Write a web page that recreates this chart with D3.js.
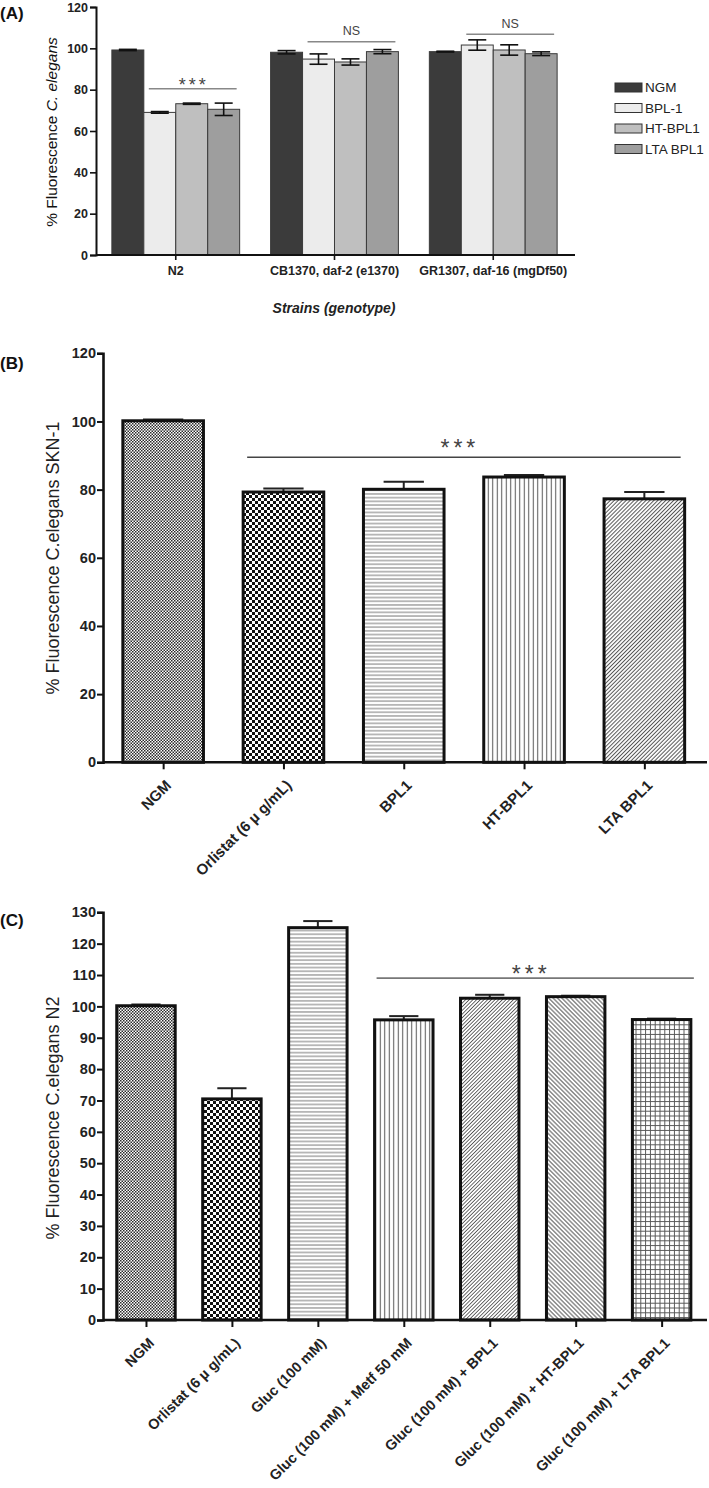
<!DOCTYPE html>
<html><head><meta charset="utf-8">
<script src="https://cdn.jsdelivr.net/npm/d3@7"></script>
<style>
body{margin:0;background:#fff}
svg{display:block}
text{font-family:"Liberation Sans",Arial,sans-serif}
</style>
</head><body>
<svg id="c" width="709" height="1488"></svg>
<script>
// ---------- DATA ----------
// Panel A
const strainsA = ["N2", "CB1370, daf-2 (e1370)", "GR1307, daf-16 (mgDf50)"];
const seriesA = ["NGM", "BPL-1", "HT-BPL1", "LTA BPL1"];
const valuesA = [[99.2, 69.0, 73.2, 70.5], [98.1, 94.8, 93.4, 98.4], [98.4, 101.6, 99.2, 97.4]];
const errorsA = [[0.3, 0.4, 0.3, 3.0], [0.8, 2.5, 1.5, 1.0], [0.2, 2.5, 2.5, 0.9]];
const sigLabelsA = ["***", "NS", "NS"];
const sigLevelsA = [80.5, 103.2, 106.8];
const yTicksA = [0, 20, 40, 60, 80, 100, 120];

// Panel B
const categoriesB = ["NGM", "Orlistat (6 \u00b5 g/mL)", "BPL1", "HT-BPL1", "LTA BPL1"];
const valuesB = [100.2, 79.3, 80.1, 83.7, 77.3];
const errorsB = [0.4, 1.0, 2.2, 0.6, 2.0];
const yTicksB = [0, 20, 40, 60, 80, 100, 120];
const sigB = {from: 1, to: 4, level: 89.5, label: "***"};

// Panel C
const categoriesC = ["NGM", "Orlistat (6 \u00b5 g/mL)", "Gluc (100 mM)", "Gluc (100 mM) + Metf 50 mM",
  "Gluc (100 mM) + BPL1", "Gluc (100 mM) + HT-BPL1", "Gluc (100 mM) + LTA BPL1"];
const valuesC = [100.2, 70.5, 125.1, 95.7, 102.6, 103.1, 95.8];
const errorsC = [0.4, 3.4, 2.1, 1.2, 1.1, 0.3, 0.3];
const yTicksC = [0, 10, 20, 30, 40, 50, 60, 70, 80, 90, 100, 110, 120, 130];
const sigC = {from: 3, to: 6, level: 109, label: "***"};

// ---------- STYLES ----------
const colorsA = ["#3b3b3b", "#ececec", "#bfbfbf", "#9e9e9e"];
const fillsB = ["fine", "check", "hl", "vl", "d1"];
const fillsC = ["fine", "check", "hl", "vl", "d1c", "d2c", "grid"];

const svg = d3.select("#c");
svg.append("rect").attr("width", 709).attr("height", 1488).attr("fill", "#fff");
const defs = svg.append("defs");

function pattern(id, w, h, transform) {
  const p = defs.append("pattern").attr("id", id).attr("patternUnits", "userSpaceOnUse")
    .attr("width", w).attr("height", h);
  if (transform) p.attr("patternTransform", transform);
  p.append("rect").attr("width", w).attr("height", h).attr("fill", "#fff");
  return p;
}
{
  const f = pattern("fine", 3, 3);
  f.append("rect").attr("x", 0).attr("y", 0).attr("width", 1.5).attr("height", 1.5).attr("fill", "#2a2a2a");
  f.append("rect").attr("x", 1.5).attr("y", 1.5).attr("width", 1.5).attr("height", 1.5).attr("fill", "#2a2a2a");
  const c = pattern("check", 6, 6);
  c.append("rect").attr("x", 0).attr("y", 0).attr("width", 3).attr("height", 3).attr("fill", "#111");
  c.append("rect").attr("x", 3).attr("y", 3).attr("width", 3).attr("height", 3).attr("fill", "#111");
  const hl = pattern("hl", 8, 3.7);
  hl.append("line").attr("x1", 0).attr("x2", 8).attr("y1", 1.85).attr("y2", 1.85).attr("stroke", "#777").attr("stroke-width", 1);
  const vl = pattern("vl", 4.5, 8);
  vl.append("line").attr("y1", 0).attr("y2", 8).attr("x1", 2.25).attr("x2", 2.25).attr("stroke", "#555").attr("stroke-width", 1);
  const d1 = pattern("d1", 2.8, 8, "rotate(45)");
  d1.append("line").attr("y1", 0).attr("y2", 8).attr("x1", 1.4).attr("x2", 1.4).attr("stroke", "#555").attr("stroke-width", 1);
  const d1c = pattern("d1c", 2.6, 8, "rotate(45)");
  d1c.append("line").attr("y1", 0).attr("y2", 8).attr("x1", 1.3).attr("x2", 1.3).attr("stroke", "#555").attr("stroke-width", 0.9);
  const d2c = pattern("d2c", 3.1, 8, "rotate(-45)");
  d2c.append("line").attr("y1", 0).attr("y2", 8).attr("x1", 1.55).attr("x2", 1.55).attr("stroke", "#555").attr("stroke-width", 1);
  const gr = pattern("grid", 4.8, 4.8);
  gr.append("line").attr("y1", 0).attr("y2", 4.8).attr("x1", 2.4).attr("x2", 2.4).attr("stroke", "#555").attr("stroke-width", 1);
  gr.append("line").attr("x1", 0).attr("x2", 4.8).attr("y1", 2.4).attr("y2", 2.4).attr("stroke", "#555").attr("stroke-width", 1);
}

// ---------- PANEL A ----------
(function () {
  const g = svg.append("g");
  const xLeft = 96, xRight = 575;
  const y = d3.scaleLinear().domain([0, 120]).range([255, 7]);
  const x0 = d3.scaleBand().domain(strainsA).range([96, 573]).paddingInner(0.195).paddingOuter(0.1);
  const x1 = d3.scaleBand().domain(seriesA).range([0, x0.bandwidth()]).padding(0);

  strainsA.forEach((s, i) => {
    const gg = g.append("g").attr("transform", `translate(${x0(s)},0)`);
    gg.selectAll("rect").data(seriesA).join("rect")
      .attr("x", d => x1(d)).attr("width", x1.bandwidth())
      .attr("y", (d, j) => y(valuesA[i][j]))
      .attr("height", (d, j) => y(0) - y(valuesA[i][j]))
      .attr("fill", (d, j) => colorsA[j]).attr("stroke", "#3a3a3a").attr("stroke-width", 1);
    const cw = 18;
    seriesA.forEach((d, j) => {
      const cx = x1(d) + x1.bandwidth() / 2, v = valuesA[i][j], e = errorsA[i][j];
      const eg = gg.append("g").attr("stroke", "#111").attr("stroke-width", 1.6);
      eg.append("line").attr("x1", cx).attr("x2", cx).attr("y1", y(v + e)).attr("y2", y(v - e));
      eg.append("line").attr("x1", cx - cw / 2).attr("x2", cx + cw / 2).attr("y1", y(v + e)).attr("y2", y(v + e));
      eg.append("line").attr("x1", cx - cw / 2).attr("x2", cx + cw / 2).attr("y1", y(v - e)).attr("y2", y(v - e));
    });
    const lx1 = x0(s) + x1("BPL-1") + 5, lx2 = x0(s) + x1("LTA BPL1") + x1.bandwidth() - 3;
    g.append("line").attr("x1", lx1).attr("x2", lx2).attr("y1", y(sigLevelsA[i])).attr("y2", y(sigLevelsA[i]))
      .attr("stroke", "#888").attr("stroke-width", 1.5);
    const isStar = sigLabelsA[i] === "***";
    g.append("text").attr("x", (lx1 + lx2) / 2 + (isStar ? 1 : 0)).attr("y", y(sigLevelsA[i]) + (isStar ? 2 : -6.5))
      .attr("text-anchor", "middle").attr("fill", "#444")
      .attr("font-size", isStar ? 18 : 12.5).attr("letter-spacing", isStar ? 3 : 0)
      .text(sigLabelsA[i]);
  });

  const ya = g.append("g").attr("transform", `translate(${xLeft},0)`)
    .call(d3.axisLeft(y).tickValues(yTicksA).tickSize(6).tickPadding(2).tickFormat(d3.format("d")));
  ya.select(".domain").attr("stroke", "#111").attr("stroke-width", 2);
  ya.selectAll(".tick line").attr("stroke", "#111").attr("stroke-width", 1.6);
  ya.selectAll(".tick text").attr("font-size", 12.5).attr("font-weight", "bold").attr("fill", "#222")
    .attr("font-family", "Liberation Sans, Arial, sans-serif");
  const xa = g.append("g").attr("transform", `translate(0,${y(0)})`)
    .call(d3.axisBottom(x0).tickSize(5).tickPadding(6).tickSizeOuter(0));
  xa.select(".domain").attr("d", `M${xLeft},0H${xRight}`).attr("stroke", "#111").attr("stroke-width", 2);
  xa.selectAll(".tick line").attr("stroke", "#111").attr("stroke-width", 1.6);
  xa.selectAll(".tick text").attr("font-size", 12.5).attr("font-weight", "bold").attr("fill", "#222")
    .attr("font-family", "Liberation Sans, Arial, sans-serif");

  const t = g.append("text").attr("transform", "translate(57,132) rotate(-90)").attr("text-anchor", "middle")
    .attr("font-size", 15.5).attr("fill", "#111");
  t.append("tspan").attr("fill", "#111").text("% Fluorescence ");
  t.append("tspan").attr("fill", "#111").attr("font-style", "italic").text("C. elegans");
  g.append("text").attr("x", 334).attr("y", 313).attr("text-anchor", "middle").attr("font-size", 14)
    .attr("font-weight", "bold").attr("font-style", "italic").attr("fill", "#222").text("Strains (genotype)");
  g.append("text").attr("x", 0).attr("y", 19).attr("font-size", 17).attr("font-weight", "bold").attr("fill", "#111").text("(A)");

  const lg = g.append("g");
  seriesA.forEach((s, j) => {
    const cy = 87.5 + j * 20.5;
    lg.append("rect").attr("x", 615).attr("y", cy - 4.5).attr("width", 27).attr("height", 9)
      .attr("fill", colorsA[j]).attr("stroke", "#333").attr("stroke-width", 1);
    lg.append("text").attr("x", 645).attr("y", cy + 4.8).attr("font-size", 13.5).attr("fill", "#222").text(s);
  });
})();

// ---------- PANELS B & C ----------
function patternPanel(o) {
  const g = svg.append("g");
  const y = d3.scaleLinear().domain([0, o.yMax]).range([o.y0, o.yTop]);
  const x = d3.scalePoint().domain(o.cats).range([o.xLeft, o.xEnd]).padding(0.5);
  const bw = x.step() * o.barFrac;

  o.cats.forEach((c, i) => {
    const cx = x(c), v = o.vals[i], e = o.errs[i], cw = bw * 0.5;
    g.append("line").attr("x1", cx).attr("x2", cx).attr("y1", y(v)).attr("y2", y(v + e)).attr("stroke", "#222").attr("stroke-width", 2);
    g.append("line").attr("x1", cx - cw / 2).attr("x2", cx + cw / 2).attr("y1", y(v + e)).attr("y2", y(v + e)).attr("stroke", "#222").attr("stroke-width", 2);
  });
  g.selectAll("rect.bar").data(o.cats).join("rect").attr("class", "bar")
    .attr("x", d => x(d) - bw / 2).attr("width", bw)
    .attr("y", (d, i) => y(o.vals[i])).attr("height", (d, i) => y(0) - y(o.vals[i]))
    .attr("fill", (d, i) => `url(#${o.fills[i]})`).attr("stroke", "#111").attr("stroke-width", 3);

  const lx1 = x(o.cats[o.sig.from]) - bw / 2 + o.sigPad[0], lx2 = x(o.cats[o.sig.to]) + bw / 2 + o.sigPad[1];
  g.append("line").attr("x1", lx1).attr("x2", lx2).attr("y1", y(o.sig.level)).attr("y2", y(o.sig.level))
    .attr("stroke", o.sigColor).attr("stroke-width", o.sigWidth);
  g.append("text").attr("x", (lx1 + lx2) / 2 + o.starDx).attr("y", y(o.sig.level) + o.starDy).attr("text-anchor", "middle")
    .attr("font-size", 23).attr("letter-spacing", 4).attr("fill", "#444").text(o.sig.label);

  const ya = g.append("g").attr("transform", `translate(${o.xLeft},0)`)
    .call(d3.axisLeft(y).tickValues(o.ticks).tickSize(6).tickPadding(1).tickFormat(d3.format("d")));
  ya.select(".domain").attr("stroke", "#111").attr("stroke-width", 2.6);
  ya.selectAll(".tick line").attr("stroke", "#111").attr("stroke-width", 2);
  ya.selectAll(".tick text").attr("font-size", 14.5).attr("font-weight", "bold").attr("fill", "#222")
    .attr("font-family", "Liberation Sans, Arial, sans-serif");
  const xa = g.append("g").attr("transform", `translate(0,${o.y0})`)
    .call(d3.axisBottom(x).tickSize(7).tickSizeOuter(0).tickFormat(""));
  xa.select(".domain").attr("d", `M${o.xLeft},0H${o.xRight}`).attr("stroke", "#111").attr("stroke-width", 2.6);
  xa.selectAll(".tick line").attr("stroke", "#111").attr("stroke-width", 2);
  g.selectAll("text.xl").data(o.cats).join("text").attr("class", "xl")
    .attr("transform", d => `translate(${x(d) + 9},${o.y0 + 24}) rotate(-45)`)
    .attr("text-anchor", "end").attr("font-size", o.xFont).attr("font-weight", "bold").attr("fill", "#222")
    .text(d => d);

  g.append("text").attr("transform", `translate(59,${o.titleY}) rotate(-90)`).attr("text-anchor", "middle")
    .attr("font-size", 18).attr("fill", "#222").text(o.title);
  g.append("text").attr("x", 0).attr("y", o.letterY).attr("font-size", 17).attr("font-weight", "bold").attr("fill", "#111").text(o.letter);
}

patternPanel({
  cats: categoriesB, vals: valuesB, errs: errorsB, ticks: yTicksB, fills: fillsB, sig: sigB,
  yMax: 120, y0: 762.3, yTop: 353.3, xLeft: 103, xEnd: 704.5, xRight: 707, barFrac: 0.67,
  sigPad: [4, -4], sigColor: "#444", sigWidth: 1.3, starDx: -4, starDy: -1.5, xFont: 15,
  title: "% Fluorescence C.elegans SKN-1", titleY: 558, letter: "(B)", letterY: 369
});
patternPanel({
  cats: categoriesC, vals: valuesC, errs: errorsC, ticks: yTicksC, fills: fillsC, sig: sigC,
  yMax: 130, y0: 1320, yTop: 912.3, xLeft: 103, xEnd: 704.6, xRight: 707, barFrac: 0.68,
  sigPad: [2, 3], sigColor: "#777", sigWidth: 1.6, starDx: -4, starDy: 4, xFont: 14.5,
  title: "% Fluorescence C.elegans N2", titleY: 1118, letter: "(C)", letterY: 926
});
</script>
</body></html>
